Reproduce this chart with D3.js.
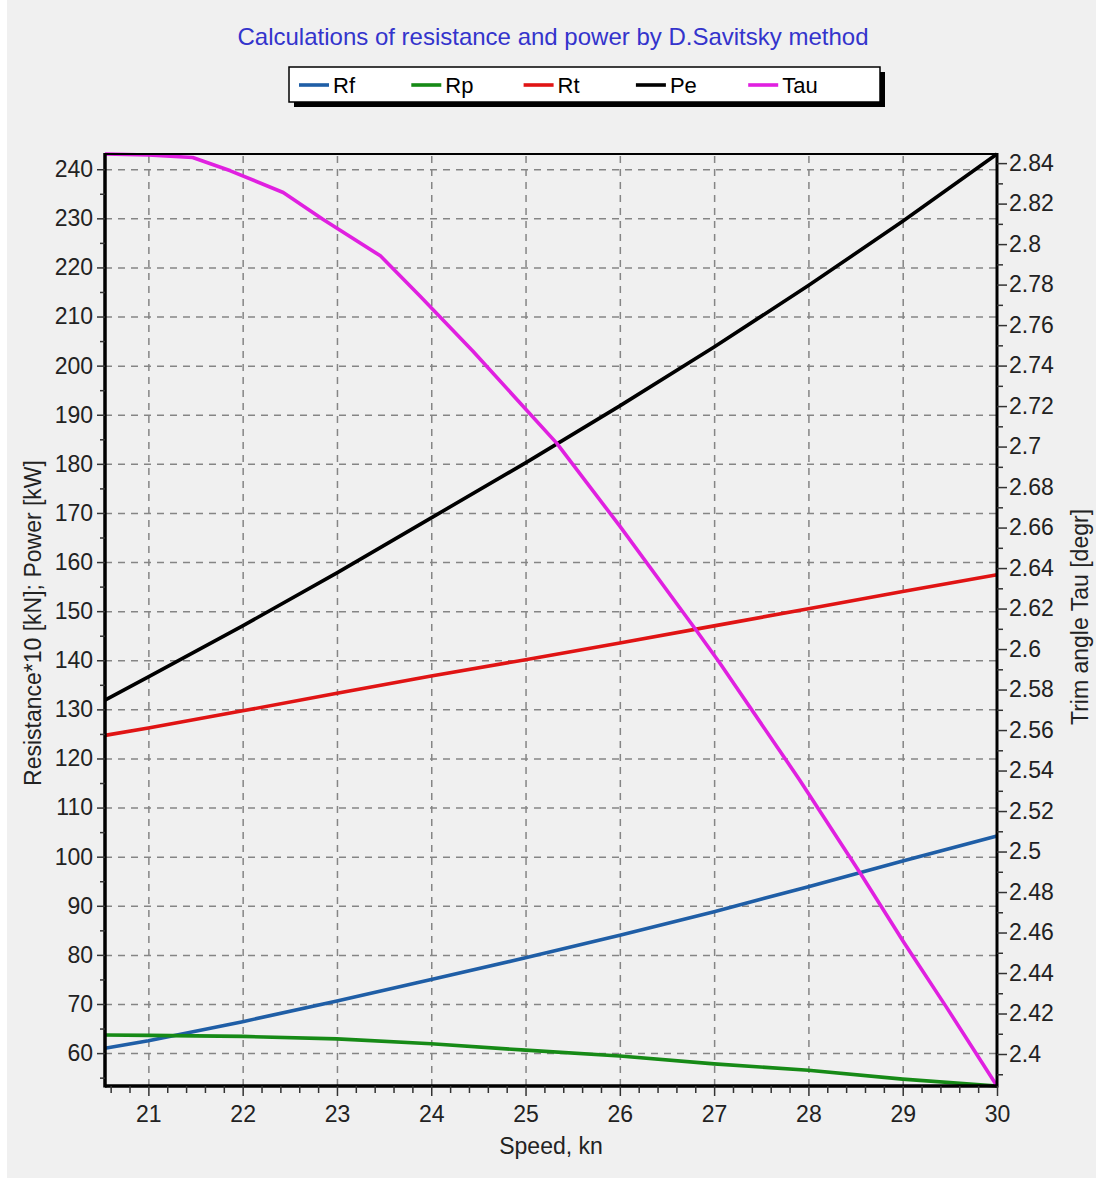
<!DOCTYPE html>
<html><head><meta charset="utf-8">
<script src="https://cdn.jsdelivr.net/npm/d3@7"></script>
<style>
html,body{margin:0;padding:0;background:#fff;}
svg{display:block;}
text{font-family:"Liberation Sans",Arial,sans-serif;}
</style></head><body>
<svg id="c" width="1096" height="1178"></svg>
<script>
// ---- data ----
const speed = [20.54, 21, 22, 23, 24, 25, 26, 27, 28, 29, 30];
const rf = [61.0, 62.5, 66.4, 70.6, 75.0, 79.4, 84.0, 88.8, 93.9, 99.1, 104.2];
const rp = [63.7, 63.6, 63.4, 62.9, 61.9, 60.6, 59.4, 57.8, 56.5, 54.7, 53.3];
const rt = [124.7, 126.2, 129.7, 133.3, 136.8, 140.1, 143.5, 147.0, 150.5, 154.0, 157.4];
const pe = [131.9, 136.6, 147.0, 157.8, 169.0, 180.2, 191.8, 203.8, 216.3, 229.4, 243.1];
const tauSpeed = [20.54, 21.0, 21.47, 21.87, 22.43, 22.85, 23.46, 23.88, 24.44, 25.33, 26.0, 26.81, 27.06, 27.905, 28.559, 29.018, 29.46, 30.0];
const tau = [2.8445, 2.8440, 2.8428, 2.8362, 2.8255, 2.8123, 2.7942, 2.7744, 2.7472, 2.7017, 2.6607, 2.6093, 2.5931, 2.5355, 2.4887, 2.4547, 2.4234, 2.3842];

const seriesNames = ["Rf", "Rp", "Rt", "Pe", "Tau"];
const seriesColors = ["#1f5ea6", "#168a16", "#e01414", "#000000", "#e020e0"];

const xTicks = [21, 22, 23, 24, 25, 26, 27, 28, 29, 30];
const leftTicks = [60, 70, 80, 90, 100, 110, 120, 130, 140, 150, 160, 170, 180, 190, 200, 210, 220, 230, 240];
const rightTicks = [2.4, 2.42, 2.44, 2.46, 2.48, 2.5, 2.52, 2.54, 2.56, 2.58, 2.6, 2.62, 2.64, 2.66, 2.68, 2.7, 2.72, 2.74, 2.76, 2.78, 2.8, 2.82, 2.84];

const titleText = "Calculations of resistance and power by D.Savitsky method";
const xTitle = "Speed, kn";
const yLeftTitle = "Resistance*10 [kN]; Power [kW]";
const yRightTitle = "Trim angle Tau [degr]";

// ---- layout ----
const L = 105, R = 997, T = 154, B = 1086;
const svg = d3.select("#c");

svg.append("rect").attr("x", 7).attr("y", 0).attr("width", 1089).attr("height", 1178).attr("fill", "#f0f0f0");

const x = d3.scaleLinear().domain(d3.extent(speed)).range([L, R]);
const yL = d3.scaleLinear().domain([d3.min(rp), d3.max(pe)]).range([B, T]);
const yR = d3.scaleLinear().domain(d3.extent(tau)).range([B, T]);

// grid
const gridStyle = g => {
  g.select(".domain").remove();
  g.selectAll("line").attr("stroke", "#858585").attr("stroke-width", 1.5).attr("stroke-dasharray", "7,6");
  g.selectAll("text").remove();
};
svg.append("g").attr("transform", `translate(0,${B})`)
  .call(d3.axisBottom(x).tickValues(xTicks.filter(v => v < 30)).tickSize(-(B - T)).tickFormat(""))
  .call(gridStyle);
svg.append("g").attr("transform", `translate(${L},0)`)
  .call(d3.axisLeft(yL).tickValues(leftTicks).tickSize(-(R - L)).tickFormat(""))
  .call(gridStyle);

// lines
const lineL = (xs, ys) => d3.line().x((d, i) => x(xs[i])).y(d => yL(d))(ys);
const plot = svg.append("g");
[[rf, 0], [rp, 1], [rt, 2], [pe, 3]].forEach(([ys, k]) => {
  plot.append("path").attr("d", lineL(speed, ys)).attr("fill", "none")
    .attr("stroke", seriesColors[k]).attr("stroke-width", 3.6).attr("stroke-linejoin", "round");
});
plot.append("path")
  .attr("d", d3.line().x((d, i) => x(tauSpeed[i])).y(d => yR(d))(tau))
  .attr("fill", "none").attr("stroke", seriesColors[4]).attr("stroke-width", 3.6).attr("stroke-linejoin", "round");

// frame
const frame = svg.append("g").attr("stroke", "#000");
frame.append("line").attr("x1", L).attr("x2", L).attr("y1", T - 1).attr("y2", B + 1.5).attr("stroke-width", 3.5);
frame.append("line").attr("x1", L).attr("x2", R).attr("y1", B).attr("y2", B).attr("stroke-width", 3.5);
frame.append("line").attr("x1", R).attr("x2", R).attr("y1", T - 1).attr("y2", B + 1.5).attr("stroke-width", 3);
frame.append("line").attr("x1", L).attr("x2", R).attr("y1", T).attr("y2", T).attr("stroke-width", 2);

// axes
const fmtR = d => String(+d.toFixed(2));
const axisStyle = (g, fs) => {
  g.select(".domain").remove();
  g.selectAll("line").attr("stroke", "#333").attr("stroke-width", 1.5);
  g.selectAll("text").attr("fill", "#222").style("font-size", fs + "px").style("font-family", '"Liberation Sans", Arial, sans-serif');
};
// minor ticks
svg.append("g").attr("transform", `translate(${L},0)`)
  .call(d3.axisLeft(yL).tickValues(d3.range(55, 244, 10)).tickSize(5).tickFormat(""))
  .call(g => axisStyle(g, 23));
svg.append("g").attr("transform", `translate(${R},0)`)
  .call(d3.axisRight(yR).tickValues(d3.range(2.39, 2.845, 0.02)).tickSize(6).tickFormat(""))
  .call(g => axisStyle(g, 23));
svg.append("g").attr("transform", `translate(0,${B})`)
  .call(d3.axisBottom(x).tickValues(d3.range(20.6, 30, 0.2).filter(v => Math.abs(v - Math.round(v)) > 0.05)).tickSize(7).tickFormat(""))
  .call(g => axisStyle(g, 23));
// major ticks
svg.append("g").attr("transform", `translate(${L},0)`)
  .call(d3.axisLeft(yL).tickValues(leftTicks).tickSize(8).tickPadding(4))
  .call(g => axisStyle(g, 23));
svg.append("g").attr("transform", `translate(${R},0)`)
  .call(d3.axisRight(yR).tickValues(rightTicks).tickSize(10).tickPadding(2).tickFormat(fmtR))
  .call(g => axisStyle(g, 23));
svg.append("g").attr("transform", `translate(0,${B})`)
  .call(d3.axisBottom(x).tickValues(xTicks).tickSize(10).tickPadding(10))
  .call(g => axisStyle(g, 23));

// titles
svg.append("text").attr("x", 553).attr("y", 45).attr("text-anchor", "middle")
  .attr("fill", "#3434cc").style("font-size", "24px").text(titleText);
svg.append("text").attr("x", 551).attr("y", 1154).attr("text-anchor", "middle")
  .attr("fill", "#222").style("font-size", "23px").text(xTitle);
svg.append("text").attr("transform", "translate(41,623) rotate(-90)").attr("text-anchor", "middle")
  .attr("fill", "#222").style("font-size", "23px").text(yLeftTitle);
svg.append("text").attr("transform", "translate(1088,617) rotate(-90)").attr("text-anchor", "middle")
  .attr("fill", "#222").style("font-size", "23px").text(yRightTitle);

// legend
const lg = svg.append("g");
lg.append("rect").attr("x", 294).attr("y", 72).attr("width", 591).attr("height", 35).attr("fill", "#000");
lg.append("rect").attr("x", 289).attr("y", 67).attr("width", 591).attr("height", 35).attr("fill", "#fff").attr("stroke", "#000").attr("stroke-width", 1.5);
seriesNames.forEach((n, i) => {
  const x0 = 299 + i * 112.3;
  lg.append("line").attr("x1", x0).attr("x2", x0 + 30).attr("y1", 85).attr("y2", 85)
    .attr("stroke", seriesColors[i]).attr("stroke-width", 3.6);
  lg.append("text").attr("x", x0 + 34).attr("y", 93).attr("fill", "#000").style("font-size", "22px").text(n);
});
</script>
</body></html>
